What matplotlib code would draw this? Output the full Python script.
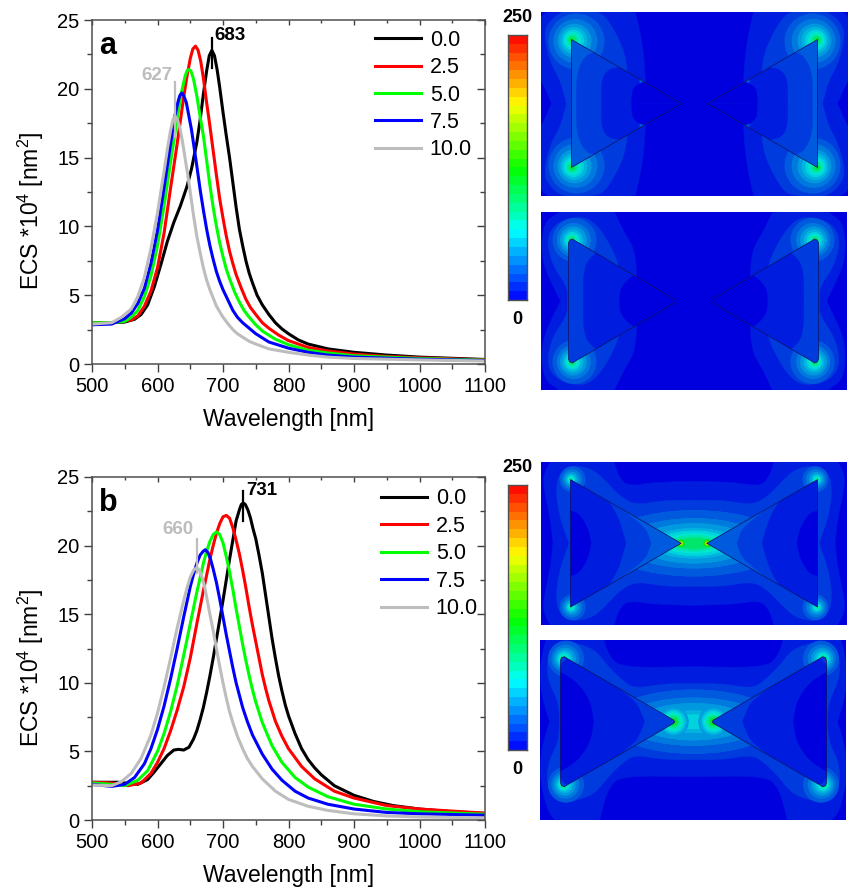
import matplotlib
matplotlib.use('Agg')
import matplotlib.pyplot as plt
from matplotlib.colors import LinearSegmentedColormap
from matplotlib.patches import Ellipse, PathPatch
from matplotlib.path import Path
import numpy as np

plt.rcParams['font.family'] = ['Liberation Sans', 'DejaVu Sans']
plt.rcParams['mathtext.default'] = 'regular'

W, H = 849, 889

doses = ['0.0', '2.5', '5.0', '7.5', '10.0']
line_colors = ['#000000', '#ff0000', '#00ff00', '#0000ff', '#bdbdbd']

# panel a spectra
a_x0 = [500, 530, 550, 565, 575, 585, 595, 605, 615, 625, 635, 645, 652, 660, 665, 670, 675, 679, 683, 687, 691, 695, 700, 705, 710, 715, 720, 725, 730, 735, 740, 745, 752, 760, 770, 780, 790, 800, 815, 830, 860, 900, 950, 1000, 1100]
a_y0 = [3, 3, 3.05, 3.25, 3.6, 4.3, 5.6, 7.2, 8.9, 10.3, 11.5, 12.9, 14.2, 16.1, 17.7, 19.6, 21.3, 22.4, 22.8, 22.4, 21.4, 20.1, 18.3, 16.6, 15, 13.2, 11.4, 9.8, 8.6, 7.5, 6.6, 5.9, 5, 4.3, 3.6, 3, 2.55, 2.2, 1.75, 1.45, 1.1, .85, .65, .5, .33]
a_x1 = [500, 530, 560, 570, 580, 590, 600, 610, 620, 630, 640, 645, 650, 654, 658, 662, 666, 670, 675, 680, 685, 690, 695, 700, 705, 710, 715, 720, 728, 735, 742, 750, 760, 770, 785, 800, 830, 860, 900, 950, 1000, 1100]
a_y1 = [3, 3, 3.2, 3.5, 4.2, 5.3, 7, 9.5, 12.8, 16, 19.4, 20.9, 22.2, 22.9, 23.1, 22.8, 22, 20.8, 19, 17.3, 15.5, 13.7, 12, 10.6, 9.3, 8.2, 7.3, 6.5, 5.5, 4.7, 4.1, 3.6, 3, 2.6, 2.1, 1.7, 1.2, .95, .72, .55, .45, .3]
a_x2 = [500, 530, 550, 560, 570, 580, 590, 600, 610, 620, 630, 636, 642, 645, 648, 651, 655, 660, 665, 670, 675, 680, 685, 690, 695, 700, 705, 710, 718, 725, 732, 740, 750, 760, 780, 800, 830, 860, 900, 1000, 1100]
a_y2 = [3, 3, 3.1, 3.4, 3.9, 4.9, 6.4, 8.6, 11.5, 14.7, 17.8, 19.6, 20.9, 21.3, 21.4, 21.3, 20.7, 19.5, 18, 16.6, 14.8, 13, 11.4, 10, 8.8, 7.8, 6.9, 6.2, 5.2, 4.5, 3.9, 3.4, 2.85, 2.4, 1.8, 1.4, 1, .8, .6, .4, .28]
a_x3 = [500, 530, 550, 560, 570, 580, 590, 600, 610, 620, 626, 631, 634, 637, 640, 644, 648, 652, 656, 660, 665, 670, 675, 680, 685, 690, 695, 700, 708, 715, 722, 730, 740, 750, 770, 800, 830, 860, 900, 1000, 1100]
a_y3 = [2.85, 2.9, 3.3, 3.7, 4.4, 5.5, 7.3, 9.7, 12.8, 16, 17.9, 19, 19.5, 19.7, 19.5, 19, 18, 17, 15.7, 14.4, 12.7, 11.2, 9.8, 8.6, 7.6, 6.7, 6, 5.4, 4.6, 3.9, 3.4, 3, 2.6, 2.2, 1.6, 1.15, .85, .65, .5, .35, .25]
a_x4 = [500, 530, 545, 560, 570, 580, 590, 600, 610, 615, 620, 624, 627, 630, 634, 638, 642, 646, 650, 655, 660, 665, 670, 675, 680, 685, 690, 695, 700, 708, 715, 722, 730, 740, 750, 770, 800, 830, 860, 900, 1000, 1100]
a_y4 = [2.9, 3, 3.4, 4, 4.9, 6.3, 8.4, 11, 14, 15.6, 17, 17.8, 18, 17.8, 17.2, 16.2, 15, 13.8, 12.5, 10.8, 9.3, 8.1, 7, 6.1, 5.4, 4.8, 4.2, 3.8, 3.4, 2.9, 2.5, 2.2, 1.95, 1.65, 1.45, 1.1, .85, .65, .5, .4, .3, .22]

# panel b spectra
b_x0 = [500, 540, 570, 585, 595, 605, 615, 625, 632, 640, 648, 655, 660, 665, 670, 675, 680, 685, 690, 695, 700, 705, 710, 715, 720, 725, 728, 731, 734, 738, 742, 746, 750, 755, 760, 765, 770, 775, 780, 785, 790, 795, 800, 810, 820, 830, 840, 850, 870, 900, 930, 960, 1000, 1050, 1100]
b_y0 = [2.75, 2.75, 2.6, 2.95, 3.5, 4.1, 4.7, 5.1, 5.15, 5.1, 5.3, 5.9, 6.5, 7.3, 8.2, 9.3, 10.5, 11.8, 13.2, 14.6, 16, 17.5, 19, 20.4, 21.8, 22.6, 23, 23.1, 23, 22.6, 22, 21.2, 20.5, 19.3, 18, 16.4, 14.8, 13.2, 11.8, 10.5, 9.4, 8.4, 7.6, 6.3, 5.2, 4.4, 3.8, 3.3, 2.5, 1.8, 1.35, 1.05, .8, .6, .48]
b_x1 = [500, 530, 555, 575, 590, 600, 610, 620, 630, 640, 650, 660, 670, 680, 685, 690, 695, 700, 705, 710, 715, 720, 725, 730, 735, 740, 745, 750, 755, 760, 765, 770, 780, 790, 800, 820, 840, 870, 900, 950, 1000, 1100]
b_y1 = [2.75, 2.7, 2.5, 2.7, 3.4, 4.2, 5.2, 6.5, 8, 9.7, 11.8, 14.3, 16.7, 19, 20, 20.9, 21.6, 22.1, 22.2, 22, 21.3, 20.4, 19.4, 18.2, 16.9, 15.5, 14.2, 13, 11.8, 10.6, 9.6, 8.7, 7.2, 6.1, 5.2, 3.9, 3, 2.1, 1.6, 1.05, .8, .5]
b_x2 = [500, 530, 550, 570, 585, 600, 610, 620, 630, 640, 650, 660, 670, 675, 680, 685, 690, 695, 700, 705, 710, 715, 720, 725, 730, 735, 740, 745, 750, 760, 775, 790, 810, 830, 860, 900, 950, 1000, 1100]
b_y2 = [2.7, 2.6, 2.5, 2.9, 3.6, 5, 6.3, 7.9, 9.8, 12, 14.3, 16.6, 18.7, 19.6, 20.3, 20.8, 21, 20.8, 20.2, 19.2, 18.1, 16.8, 15.4, 14.1, 12.8, 11.6, 10.5, 9.5, 8.6, 7.1, 5.4, 4.2, 3.1, 2.4, 1.7, 1.15, .8, .6, .42]
b_x3 = [500, 530, 550, 565, 580, 590, 600, 610, 620, 630, 640, 650, 655, 660, 665, 670, 673, 677, 681, 685, 690, 695, 700, 705, 710, 715, 720, 725, 730, 737, 745, 760, 775, 790, 810, 830, 860, 900, 950, 1000, 1100]
b_y3 = [2.6, 2.45, 2.6, 3.1, 4.1, 5.2, 6.6, 8.3, 10.3, 12.5, 14.8, 17, 17.9, 18.7, 19.3, 19.6, 19.7, 19.5, 19, 18.3, 17.3, 16.1, 14.8, 13.5, 12.3, 11.1, 10, 9.1, 8.2, 7.2, 6.2, 4.8, 3.7, 2.9, 2.1, 1.6, 1.15, .8, .55, .45, .35]
b_x4 = [500, 530, 545, 560, 575, 590, 600, 610, 620, 630, 640, 645, 650, 655, 660, 664, 668, 672, 676, 680, 685, 690, 695, 700, 705, 710, 715, 722, 730, 737, 745, 760, 780, 800, 830, 860, 900, 950, 1000, 1100]
b_y4 = [2.55, 2.5, 2.8, 3.4, 4.5, 6.2, 7.8, 9.7, 11.8, 14, 16, 16.9, 17.7, 18.2, 18.4, 18.2, 17.7, 17, 16, 15, 13.8, 12.5, 11.2, 10, 8.9, 7.9, 7.1, 6.1, 5.2, 4.5, 3.9, 3, 2.1, 1.5, 1, .7, .45, .3, .22, .15]

# field maps: band outlines in the upper right quarter, in picture pixels from the gap centre
a1_outside = [(1, [49, 49, 52, 59, 62, 160, 160, 153, 143], [0, 27, 60, 92, 100, 100, 30, 23, 0]),
              (2, [67, 67, 73, 89, 100, 125, 136, 145, 151, 144, 134, 128], [0, 37, 60, 88, 92, 94, 90, 82, 70, 40, 23, 0])]
a1_inside = [(2, [118, 118, 110, 100, 60, 60], [0, 30, 47, 52, 52, 0]),
             (1, [93, 93, 85, 72, 55, 55], [0, 25, 35, 36, 36, 0]),
             (0, [63, 62, 55, 49, 10, 10], [0, 15, 20, 22, 22, 0])]
a1_hot = (123, 64, 5, 2, [28, 22, 17, 13.5, 10.5, 8, 6, 4.5, 3.3, 2.3, 1.4])
a1_tri = ([13, 123, 123], [0, 64, 0])

a2_outside = [(1, [57, 57, 70, 79, 85, 125, 135, 148, 152, 151, 143, 133], [0, 48, 70, 89, 100, 100, 88, 80, 62, 40, 20, 0]),
              (2, [73, 73, 80, 95, 110, 132, 144, 146, 140, 126, 126], [0, 30, 50, 75, 85, 81, 70, 55, 34, 14, 0])]
a2_inside = [(1, [110, 110, 99, 88, 40, 40], [0, 34, 48, 50, 50, 0]),
             (0, [74, 73, 58, 30, 10], [0, 14, 28, 28, 0])]
a2_hot = (122, 61, 3, 0, [22, 17, 13.5, 10.5, 8, 6, 4.7, 3.5, 2.5, 1.7])
a2_tri = ([17.5, 18.5, 118, 121, 123.5, 125, 125], [0, 1.5, 60, 62, 61, 58.5, 0])

b1_outside = [(1, [0, 40, 66, 75, 80, 85, 135, 151, 150, 144, 141, 0], [62, 61, 57, 66, 82, 95, 95, 70, 53, 27, 0, 0]),
              (2, [0, 30, 59, 75, 88, 100, 112, 125, 136, 138, 134, 125, 0], [43, 43, 38, 48, 62, 73, 77, 77, 68, 50, 25, 0, 0])]
b1_inside = [(2, [43, 50, 130, 130], [0, 20, 70, 0]),
             (1, [68, 76, 86, 99, 130, 130], [0, 27, 43, 60, 70, 0]),
             (0, [103, 106, 115, 125, 130, 130], [0, 15, 30, 33, 33, 0])]
b1_hot = (123.5, 64, 2, 0, [13, 10, 7.5, 5.5, 4, 3, 2, 1.2])
b1_gap_rx = [90, 70, 55, 43, 36, 30, 25, 21, 19]
b1_gap_ry = [33, 25, 20, 15, 12.5, 10, 8, 6, 5]
b1_tip = (13, 12, [4, 3.4, 3, 2.7, 2.4, 2.1, 1.8, 1.5, 1.3, 1.1, 0.9, 0.7])
b1_tri = ([12.8, 123.5, 123.5], [0, 63.7, 0])

b2_outside = [(1, [0, 72, 85, 92, 95, 140, 153, 153, 144, 0], [55, 54, 66, 90, 105, 105, 65, 30, 0, 0]),
              (2, [0, 30, 59, 72, 85, 97, 108, 125, 140, 147, 145, 135, 134, 0], [38, 38, 33, 42, 55, 70, 76, 80, 76, 60, 40, 20, 0, 0])]
b2_inside = [(1, [49, 55, 60, 135, 135], [0, 15, 22, 80, 0]),
             (0, [100, 103, 115, 130, 135, 135], [0, 20, 38, 48, 50, 0])]
b2_hot = (130.5, 63, 3, 0, [18, 14, 11, 8.5, 6.5, 5, 3.8, 2.8, 1.8])
b2_gap_rx = [85, 70, 55, 38, 30]
b2_gap_ry = [32, 24, 18.5, 11, 7]
b2_tip = (20, 5, [15, 13, 11, 9, 7.5, 6, 4.8, 3.8, 3.0, 2.4, 1.8, 1.3, 0.9, 0.6])
b2_tri = ([18.7, 20, 126, 129, 132, 133, 133], [0, 1.7, 63, 65, 64, 61, 0])

cmap = LinearSegmentedColormap.from_list('field', [(0, '#0000ff'), (0.26, '#00ffff'), (0.49, '#00ff00'), (0.74, '#ffff00'), (1, '#ff0000')])
N_BANDS = 30


def band(i):  # colour of one field band, the maps are a little darker than the bar
    c = cmap(i / (N_BANDS - 1))
    return (c[0] * 0.9, c[1] * 0.9, c[2] * 0.87)


def px_axes(fig, x0, y0, x1, y1):  # axes from pixel box, y counted from the top
    return fig.add_axes([x0 / W, 1 - y1 / H, (x1 - x0) / W, (y1 - y0) / H])


def spectra(ax, xs, ys, peaks, letter, peak_labels, leg_anchor):
    for x, y, c, d in zip(xs, ys, line_colors, doses):
        ax.plot(x, y, color=c, lw=2.2, label=d, solid_joinstyle='round')
    ax.set_xlim(500, 1100)
    ax.set_ylim(0, 25)
    ax.set_xticks(range(500, 1101, 100))
    ax.set_xticks(range(550, 1100, 100), minor=True)
    ax.set_yticks(range(0, 26, 5))
    ax.set_yticks(np.arange(2.5, 25, 5), minor=True)
    ax.tick_params(which='both', color='#404040', width=1.0, labelsize=14.5, pad=3)
    ax.tick_params(which='major', length=6)
    ax.tick_params(which='minor', length=3.5)
    for s in ax.spines.values():
        s.set_color('#505050')
        s.set_linewidth(1.1)
    # top and right ticks point inward
    sec = ax.secondary_xaxis('top')
    sec.set_xticks(range(500, 1101, 100))
    sec.set_xticks(range(550, 1100, 100), minor=True)
    sec.tick_params(which='both', direction='in', labeltop=False, color='#404040', width=1.0)
    sec.tick_params(which='major', length=3.5)
    sec.tick_params(which='minor', length=2.5)
    sec.spines['top'].set_visible(False)
    sec2 = ax.secondary_yaxis('right')
    sec2.set_yticks(range(0, 26, 5))
    sec2.set_yticks(np.arange(2.5, 25, 5), minor=True)
    sec2.tick_params(which='both', direction='in', labelright=False, color='#404040', width=1.0)
    sec2.tick_params(which='major', length=6)
    sec2.tick_params(which='minor', length=3.5)
    sec2.spines['right'].set_visible(False)
    ax.set_xlabel('Wavelength [nm]', fontsize=16.5, labelpad=9)
    ax.set_ylabel('ECS *10$^{4}$ [nm$^{2}$]', fontsize=16.5, labelpad=8, y=0.445)
    ax.text(0.018, 0.925, letter, transform=ax.transAxes, fontsize=22, fontweight='bold', va='center')
    for (px, y0, y1, c), (tx, ty, txt) in zip(peaks, peak_labels):
        ax.plot([px, px], [y0, y1], color=c, lw=1.6)
        ax.text(tx, ty, txt, color=c, fontsize=13.5, fontweight='bold', va='center')
    ax.legend(loc='upper left', bbox_to_anchor=leg_anchor, frameon=False, fontsize=15.5, handlelength=2.15,
              handletextpad=0.4, labelspacing=0.3, borderpad=0, borderaxespad=0)


def chaikin(run):
    for _ in range(3):
        new = [run[0]]
        for p, q in zip(run[:-1], run[1:]):
            new.append((0.75 * p[0] + 0.25 * q[0], 0.75 * p[1] + 0.25 * q[1]))
            new.append((0.25 * p[0] + 0.75 * q[0], 0.25 * p[1] + 0.75 * q[1]))
        new.append(run[-1])
        run = new
    return run


def smooth(us, vs):  # rounds an outline by corner cutting, points on the quarter's edges stay sharp
    pts = list(zip(map(float, us), map(float, vs)))
    out = [pts[0]]
    run = [pts[0]]
    for p in pts[1:]:
        run.append(p)
        if p[0] == 0 or p[1] == 0 or p is pts[-1]:
            out += chaikin(run)[1:]
            run = [p]
    return np.array(out).T


def mirrored(ax, us, vs, color, clip=None):  # one band outline copied into all four quarters
    us, vs = smooth(us, vs)
    for su in (1, -1):
        for sv in (1, -1):
            for p in ax.fill(su * us, sv * vs, color=color, lw=0.3):
                if clip is not None:
                    p.set_clip_path(clip)


def rings(ax, cus, cvs, rx, ry, first):  # nested bands round one hot spot
    for i, (a, b) in enumerate(zip(rx, ry)):
        for su in (1, -1):
            for sv in (1, -1):
                ax.add_patch(Ellipse((su * cus[i], sv * cvs[i]), 2 * a, 2 * b, color=band(first + i), lw=0))


def field(fig, box, centre, outside, inside, hot, tri, base, gap=None, tip=None):
    ax = px_axes(fig, *box)
    ax.set_xlim(box[0] - centre[0], box[2] - centre[0])
    ax.set_ylim(centre[1] - box[3], centre[1] - box[1])
    ax.axis('off')
    ax.fill([-200, 200, 200, -200], [-200, -200, 200, 200], color=band(0), lw=0)
    for n, us, vs in outside:
        mirrored(ax, us, vs, band(n))
    cu, cv, du, dv, rx = hot
    # wide rings sit a little inward of the corner, small ones close in on it
    rel = np.array(rx) / rx[0]
    rings(ax, cu - du * rel, cv - dv * rel, rx, rx, 3)
    if gap is not None:
        n = len(gap[0])
        rings(ax, np.zeros(n), np.zeros(n), gap[0], gap[1], 3)
        tu, first, tr = tip
        rings(ax, np.full(len(tr), tu), np.zeros(len(tr)), tr, tr, first)
    tu = np.array(tri[0], float)
    tv = np.array(tri[1], float)
    half_u = np.concatenate([tu, tu[-2:0:-1]])
    half_v = np.concatenate([tv, -tv[-2:0:-1]])
    right = np.column_stack([half_u, half_v])
    left = np.column_stack([-half_u, half_v])
    outline = Path.make_compound_path(Path(np.vstack([right, right[:1]])), Path(np.vstack([left, left[:1]])))
    ax.add_patch(PathPatch(outline, facecolor=band(base), edgecolor='none'))
    clip = PathPatch(outline, transform=ax.transData)
    for n, us, vs in inside:
        mirrored(ax, us, vs, band(n), clip)
    ax.add_patch(PathPatch(outline, facecolor='none', edgecolor='#101060', lw=0.5))


def colorbar(fig, x0, y0, x1, y1):
    ax = px_axes(fig, x0, y0, x1, y1)
    vals = np.linspace(0, 250, N_BANDS + 1)
    ax.pcolormesh([0, 1], vals, (vals[:-1] + vals[1:]).reshape(-1, 1) / 2, cmap=cmap, vmin=0, vmax=250)
    ax.set_xticks([])
    ax.set_yticks([])
    for s in ax.spines.values():
        s.set_color('#505050')
        s.set_linewidth(1.0)
    fig.text((x0 + x1 - 1) / 2 / W, 1 - (y0 - 18) / H, '250', ha='center', va='center', fontsize=13, fontweight='bold')
    fig.text((x0 + x1 - 1) / 2 / W, 1 - (y1 + 20) / H, '0', ha='center', va='center', fontsize=13, fontweight='bold')


fig = plt.figure(figsize=(W / 100, H / 100), dpi=100)

ax_a = px_axes(fig, 92, 20, 485, 364)
spectra(ax_a, [a_x0, a_x1, a_x2, a_x3, a_x4], [a_y0, a_y1, a_y2, a_y3, a_y4],
        [(683, 21.5, 23.7, '#000000'), (627, 16.5, 20.5, '#bdbdbd')], 'a',
        [(687, 23.9, '683'), (575, 21.0, '627')], (0.72, 0.972))

ax_b = px_axes(fig, 92, 477, 485, 820)
spectra(ax_b, [b_x0, b_x1, b_x2, b_x3, b_x4], [b_y0, b_y1, b_y2, b_y3, b_y4],
        [(731, 21.8, 24.0, '#000000'), (660, 18.0, 20.5, '#bdbdbd')], 'b',
        [(736, 24.0, '731'), (608, 21.2, '660')], (0.735, 0.967))

colorbar(fig, 508, 35, 527, 300)
colorbar(fig, 508, 485, 527, 750)

field(fig, (541, 12, 848, 196), (694.5, 103.5), a1_outside, a1_inside, a1_hot, a1_tri, 3)
field(fig, (541, 212, 847, 390), (693.5, 301), a2_outside, a2_inside, a2_hot, a2_tri, 2)
field(fig, (541, 462, 847, 625), (694, 543.3), b1_outside, b1_inside, b1_hot, b1_tri, 3, (b1_gap_rx, b1_gap_ry), b1_tip)
field(fig, (540, 640, 846, 820), (693.5, 721.7), b2_outside, b2_inside, b2_hot, b2_tri, 2, (b2_gap_rx, b2_gap_ry), b2_tip)

fig.savefig('out.png', dpi=100)
